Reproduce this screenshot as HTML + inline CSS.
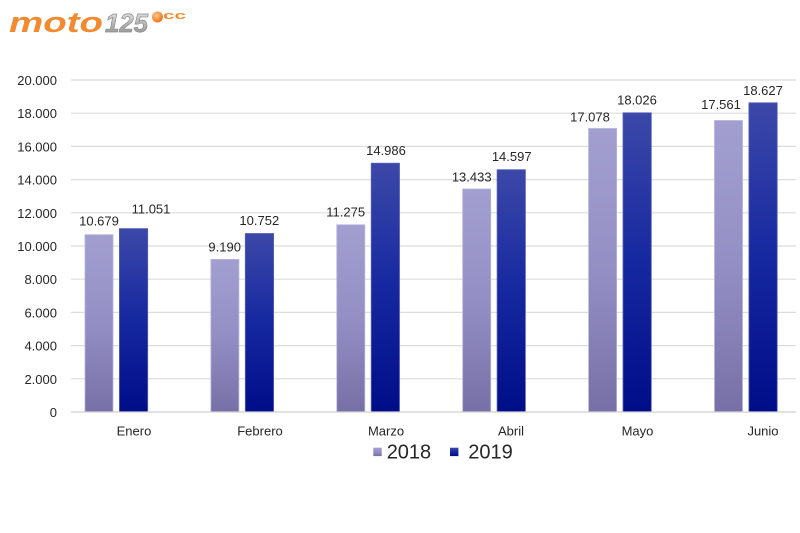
<!DOCTYPE html>
<html><head><meta charset="utf-8"><style>
html,body{margin:0;padding:0;background:#fff;}
svg{display:block;}
</style></head><body>
<svg width="800" height="533" viewBox="0 0 800 533" xmlns="http://www.w3.org/2000/svg" font-family="'Liberation Sans', sans-serif">
<defs>
<linearGradient id="g18" x1="0" y1="0" x2="0" y2="1">
<stop offset="0" stop-color="#a29fd0"/><stop offset="0.5" stop-color="#938fc4"/><stop offset="1" stop-color="#7770a6"/>
</linearGradient>
<linearGradient id="g19" x1="0" y1="0" x2="0" y2="1">
<stop offset="0" stop-color="#3c48a8"/><stop offset="0.5" stop-color="#1628a0"/><stop offset="1" stop-color="#000d88"/>
</linearGradient>
<linearGradient id="gm" x1="0" y1="0" x2="0" y2="1">
<stop offset="0" stop-color="#f2f2f2"/><stop offset="0.5" stop-color="#b8b8b8"/><stop offset="1" stop-color="#8a8a8a"/>
</linearGradient>
<radialGradient id="ball" cx="0.4" cy="0.35" r="0.6">
<stop offset="0" stop-color="#ffc690"/><stop offset="1" stop-color="#f07a20"/>
</radialGradient>
</defs>
<rect width="800" height="533" fill="#fff"/>
<!-- logo -->
<text x="9" y="32" font-size="29" font-weight="bold" font-style="italic" fill="#f28a30" textLength="94" lengthAdjust="spacingAndGlyphs">moto</text>
<text x="105" y="32" font-size="26" font-weight="bold" font-style="italic" fill="url(#gm)" stroke="#8c8c8c" stroke-width="0.7" textLength="43" lengthAdjust="spacingAndGlyphs">125</text>
<circle cx="157.5" cy="17" r="5.5" fill="url(#ball)"/>
<text x="163" y="19" font-size="11" font-weight="bold" fill="#f28a30" textLength="23" lengthAdjust="spacingAndGlyphs">cc</text>
<!-- gridlines -->
<g stroke="#dcdcdc" stroke-width="1.2">
<line x1="71" x2="796" y1="80" y2="80"/>
<line x1="71" x2="796" y1="113.2" y2="113.2"/>
<line x1="71" x2="796" y1="146.4" y2="146.4"/>
<line x1="71" x2="796" y1="179.6" y2="179.6"/>
<line x1="71" x2="796" y1="212.8" y2="212.8"/>
<line x1="71" x2="796" y1="246" y2="246"/>
<line x1="71" x2="796" y1="279.2" y2="279.2"/>
<line x1="71" x2="796" y1="312.4" y2="312.4"/>
<line x1="71" x2="796" y1="345.6" y2="345.6"/>
<line x1="71" x2="796" y1="378.8" y2="378.8"/>
</g>
<!-- y labels -->
<g font-size="13" fill="#262626" text-anchor="end">
<text x="57" y="85">20.000</text>
<text x="57" y="118.2">18.000</text>
<text x="57" y="151.4">16.000</text>
<text x="57" y="184.6">14.000</text>
<text x="57" y="217.8">12.000</text>
<text x="57" y="251">10.000</text>
<text x="57" y="284.2">8.000</text>
<text x="57" y="317.4">6.000</text>
<text x="57" y="350.6">4.000</text>
<text x="57" y="383.8">2.000</text>
<text x="57" y="417">0</text>
</g>
<!-- bars -->
<g stroke-width="0.8">
<rect x="85" y="234.7" width="28" height="177.3" fill="url(#g18)" stroke="#b5b2dc"/>
<rect x="119.4" y="228.6" width="28.3" height="183.4" fill="url(#g19)" stroke="#5560b8"/>
<rect x="210.9" y="259.4" width="28" height="152.6" fill="url(#g18)" stroke="#b5b2dc"/>
<rect x="245.3" y="233.5" width="28.3" height="178.5" fill="url(#g19)" stroke="#5560b8"/>
<rect x="336.8" y="224.8" width="28" height="187.2" fill="url(#g18)" stroke="#b5b2dc"/>
<rect x="371.2" y="163.2" width="28.3" height="248.8" fill="url(#g19)" stroke="#5560b8"/>
<rect x="462.7" y="189" width="28" height="223" fill="url(#g18)" stroke="#b5b2dc"/>
<rect x="497.1" y="169.7" width="28.3" height="242.3" fill="url(#g19)" stroke="#5560b8"/>
<rect x="588.6" y="128.5" width="28" height="283.5" fill="url(#g18)" stroke="#b5b2dc"/>
<rect x="623.0" y="112.8" width="28.3" height="299.2" fill="url(#g19)" stroke="#5560b8"/>
<rect x="714.5" y="120.5" width="28" height="291.5" fill="url(#g18)" stroke="#b5b2dc"/>
<rect x="748.9" y="102.8" width="28.3" height="309.2" fill="url(#g19)" stroke="#5560b8"/>
</g>
<line x1="71" x2="796" y1="412" y2="412" stroke="#d0d0d0" stroke-width="1.2"/>
<!-- data labels -->
<g font-size="13" fill="#262626" text-anchor="middle">
<text x="99" y="225.7">10.679</text>
<text x="151" y="213.3">11.051</text>
<text x="224.7" y="251.7">9.190</text>
<text x="259.3" y="225">10.752</text>
<text x="345.7" y="216.7">11.275</text>
<text x="386" y="155">14.986</text>
<text x="471.7" y="181.7">13.433</text>
<text x="511.7" y="161">14.597</text>
<text x="590" y="121.7">17.078</text>
<text x="637" y="104.3">18.026</text>
<text x="721" y="109">17.561</text>
<text x="763" y="95">18.627</text>
</g>
<!-- category labels -->
<g font-size="13" fill="#262626" text-anchor="middle">
<text x="134" y="435.7">Enero</text>
<text x="260" y="435.7">Febrero</text>
<text x="386" y="435.7">Marzo</text>
<text x="511" y="435.7">Abril</text>
<text x="637.5" y="435.7">Mayo</text>
<text x="763" y="435.7">Junio</text>
</g>
<!-- legend -->
<rect x="373.3" y="447.7" width="8.4" height="8.4" fill="url(#g18)"/>
<text x="386.7" y="458.3" font-size="20" fill="#262626">2018</text>
<rect x="450" y="447.7" width="8.4" height="8.4" fill="url(#g19)"/>
<text x="468.3" y="458.3" font-size="20" fill="#262626">2019</text>
</svg>
</body></html>
